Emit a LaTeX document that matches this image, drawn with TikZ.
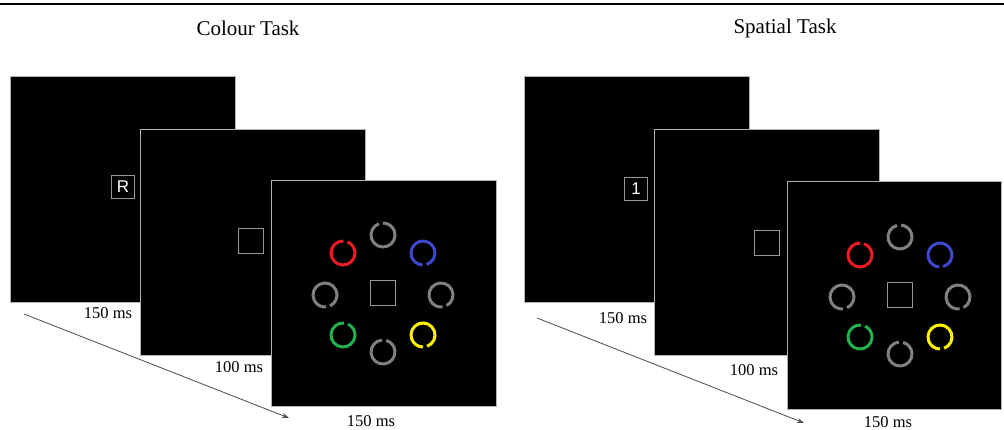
\documentclass[tikz,border=0pt]{standalone}
\usepackage{fontspec}
\setmainfont{Liberation Serif}
\setsansfont{Liberation Sans}
\usepackage{tikz}
\usetikzlibrary{positioning}
\usetikzlibrary{calc,arrows.meta}

\definecolor{ringred}{RGB}{236,28,36}
\definecolor{ringblue}{RGB}{63,72,204}
\definecolor{ringgreen}{RGB}{34,177,76}
\definecolor{ringyellow}{RGB}{255,242,0}
\definecolor{ringgray}{RGB}{128,128,128}

\tikzset{
  panel/.style={draw=gray!60, fill=black, line width=1pt, minimum width=225pt,
    minimum height=226pt, anchor=north west, inner sep=0pt},
  cue/.style={draw=gray!80, line width=1pt, minimum size=23pt, inner sep=0pt,
    text=white, font=\sffamily\fontsize{17}{17}\selectfont},
  fixbox/.style={draw=gray!80, line width=1pt, minimum size=25pt, inner sep=0pt},
  ring/.style={line width=3pt},
  ms/.style={font=\fontsize{16.5}{17}\selectfont, inner sep=0pt},
  tasktitle/.style={font=\fontsize{21}{21}\selectfont, inner sep=0pt},
  timeline/.style={draw=gray!60!black, line width=0.8pt, -{Stealth[length=7pt,width=5pt]}}
}

\begin{document}
\begin{tikzpicture}[x=1pt,y=-1pt]
\useasboundingbox (0,0) rectangle (1004,430);
\draw[line width=2pt] (0,4) -- (1004,4);

% colour task
\node[tasktitle] (colourtitle) at (248,28) {Colour Task};
\node (cp1) [panel] at (10,76) {};
\node (cp2) [panel] at (140,129) {};
\node (cp3) [panel] at (271,180) {};
\node[cue] (cueR) at (123,187) {R};
\node[fixbox] (cfix2) at (251,241) {};
\node[fixbox] (cfix3) at (383,293) {};
\foreach \dx/\dy/\col/\gap in {0/-58/ringgray/100, -40/-40/ringred/78, 40/-40/ringblue/278,
    -58/2/ringgray/285, 58/2/ringgray/288, -40/42/ringgreen/75, 40/42/ringyellow/280, 0/59/ringgray/85}
  \draw[ring,\col] ($(cfix3)+(\dx,\dy)$) ++(\gap+10:12pt) arc[start angle=\gap+10, end angle=\gap+350, radius=12pt];
\node[ms] (ct1) at (108,313) {150 ms};
\node[ms] (ct2) at (239,367) {100 ms};
\node[ms] (ct3) at (371,421) {150 ms};
\coordinate (carrow0) at (24,314);
\coordinate (carrow1) at (289,418);
\draw[timeline] (carrow0) -- (carrow1);

% spatial task
\node[tasktitle] (spatialtitle) at (785,28) {Spatial Task};
\node (sp1) [panel] at (524,76) {};
\node (sp2) [panel] at (654,129) {};
\node (sp3) [panel, minimum width=214pt, minimum height=228pt] at (787,181) {};
\node[cue] (cue1) at (636,189) {1};
\node[fixbox] (sfix2) at (767,243) {};
\node[fixbox] (sfix3) at (900,295) {};
\foreach \dx/\dy/\col/\gap in {0/-58/ringgray/95, -40/-40/ringred/80, 40/-40/ringblue/275,
    -58/2/ringgray/285, 58/2/ringgray/288, -40/42/ringgreen/75, 40/42/ringyellow/280, 0/59/ringgray/85}
  \draw[ring,\col] ($(sfix3)+(\dx,\dy)$) ++(\gap+10:12pt) arc[start angle=\gap+10, end angle=\gap+350, radius=12pt];
\node[ms] (st1) at (623,318) {150 ms};
\node[ms] (st2) at (754,370) {100 ms};
\node[ms] (st3) at (888,422) {150 ms};
\coordinate (sarrow0) at (537,318);
\coordinate (sarrow1) at (804,423);
\draw[timeline] (sarrow0) -- (sarrow1);
\end{tikzpicture}
\end{document}
